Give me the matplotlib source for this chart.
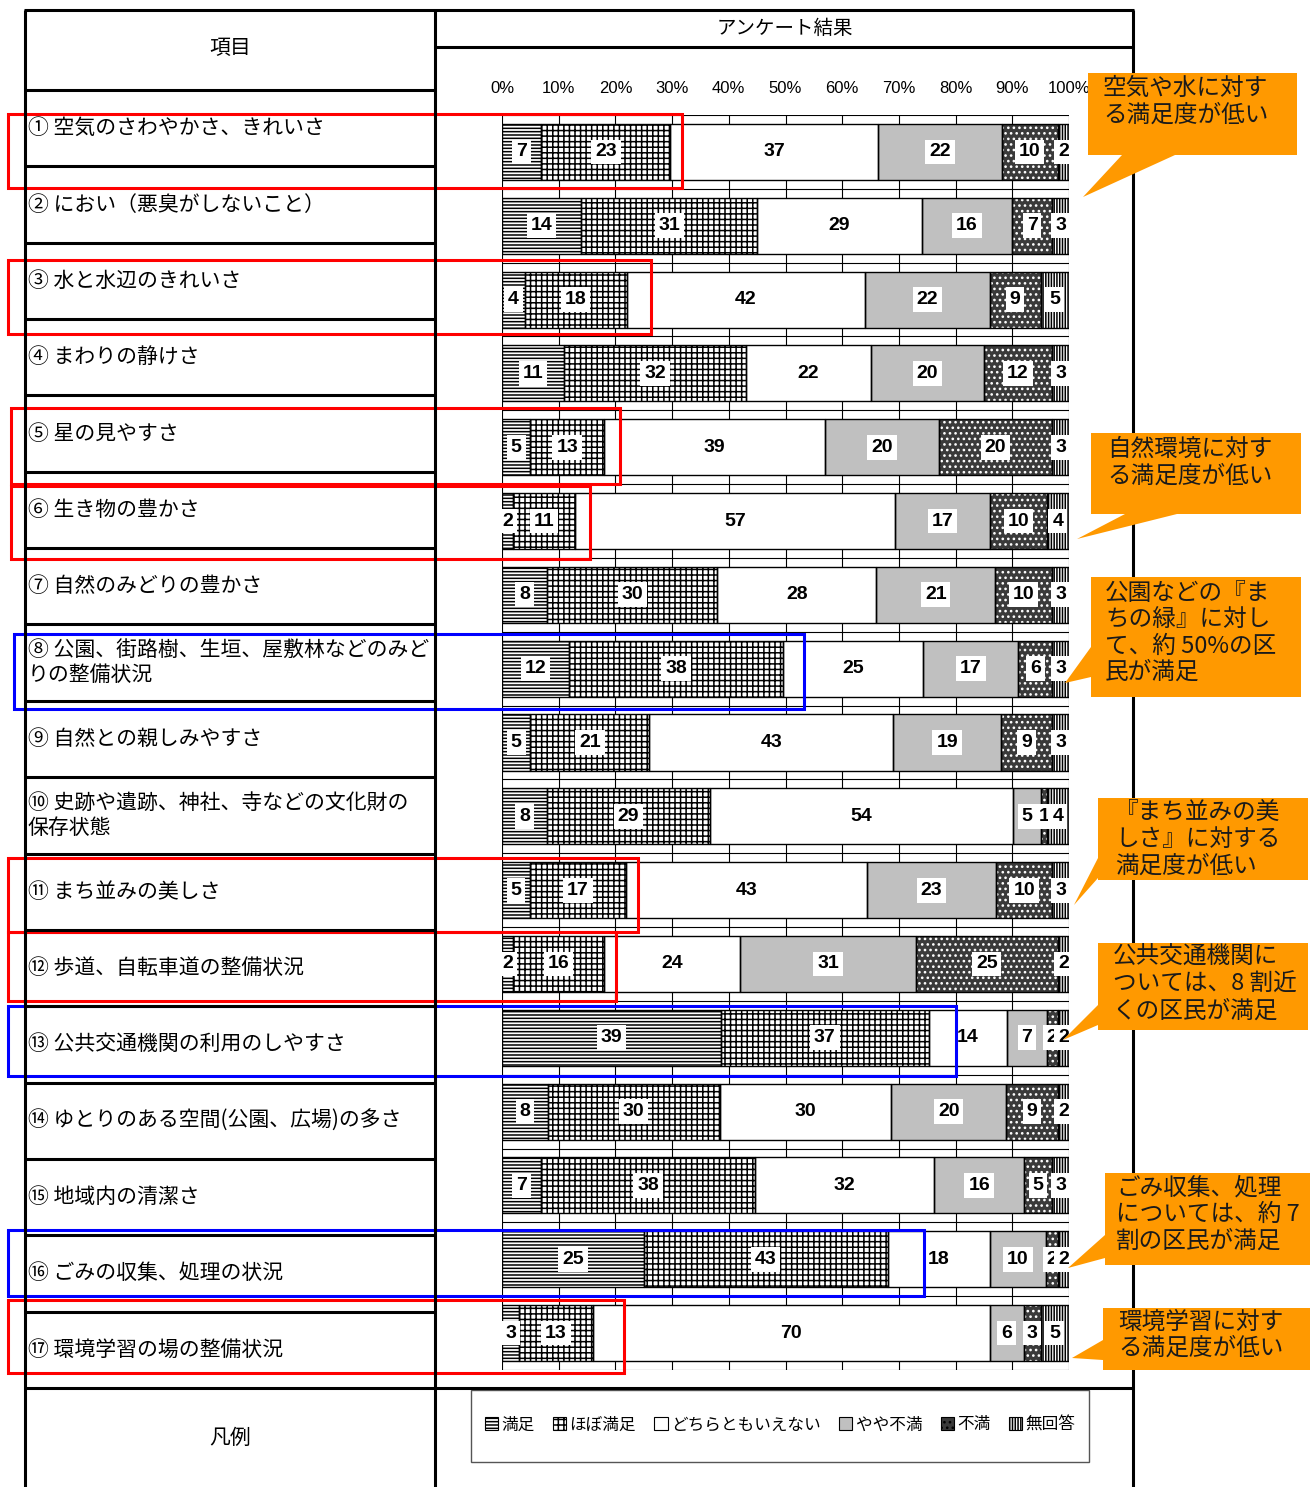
import numpy as np
import matplotlib
matplotlib.use('Agg')
import matplotlib.pyplot as plt
from matplotlib.patches import Rectangle, Polygon, Patch

plt.rcParams['font.family'] = ['Noto Sans CJK JP', 'DejaVu Sans']
plt.rcParams['hatch.linewidth'] = 1.1

# ---------------- data ----------------
categories = [
    "① 空気のさわやかさ、きれいさ",
    "② におい（悪臭がしないこと）",
    "③ 水と水辺のきれいさ",
    "④ まわりの静けさ",
    "⑤ 星の見やすさ",
    "⑥ 生き物の豊かさ",
    "⑦ 自然のみどりの豊かさ",
    "⑧ 公園、街路樹、生垣、屋敷林などのみど\nりの整備状況",
    "⑨ 自然との親しみやすさ",
    "⑩ 史跡や遺跡、神社、寺などの文化財の\n保存状態",
    "⑪ まち並みの美しさ",
    "⑫ 歩道、自転車道の整備状況",
    "⑬ 公共交通機関の利用のしやすさ",
    "⑭ ゆとりのある空間(公園、広場)の多さ",
    "⑮ 地域内の清潔さ",
    "⑯ ごみの収集、処理の状況",
    "⑰ 環境学習の場の整備状況",
]
series_names = ["満足", "ほぼ満足", "どちらともいえない", "やや不満", "不満", "無回答"]
satisfied    = [7, 14, 4, 11, 5, 2, 8, 12, 5, 8, 5, 2, 39, 8, 7, 25, 3]
mostly_sat   = [23, 31, 18, 32, 13, 11, 30, 38, 21, 29, 17, 16, 37, 30, 38, 43, 13]
neutral      = [37, 29, 42, 22, 39, 57, 28, 25, 43, 54, 43, 24, 14, 30, 32, 18, 70]
somewhat_dis = [22, 16, 22, 20, 20, 17, 21, 17, 19, 5, 23, 31, 7, 20, 16, 10, 6]
dissatisfied = [10, 7, 9, 12, 20, 10, 10, 6, 9, 1, 10, 25, 2, 9, 5, 2, 3]
no_answer    = [2, 3, 5, 3, 3, 4, 3, 3, 3, 4, 3, 2, 2, 2, 3, 2, 5]
tick_values = [0, 10, 20, 30, 40, 50, 60, 70, 80, 90, 100]
tick_labels = ["0%", "10%", "20%", "30%", "40%", "50%", "60%", "70%", "80%", "90%", "100%"]

callout_texts = [
    ["空気や水に対す", "る満足度が低い"],
    ["自然環境に対す", "る満足度が低い"],
    ["公園などの『ま", "ちの緑』に対し", "て、約 50%の区", "民が満足"],
    ["『まち並みの美", "しさ』に対する", "満足度が低い"],
    ["公共交通機関に", "ついては、8 割近", "くの区民が満足"],
    ["ごみ収集、処理", "については、約 7", "割の区民が満足"],
    ["環境学習に対す", "る満足度が低い"],
]

# ---------------- styles ----------------
W, H = 1311, 1487
styles = [  # facecolor, hatch, hatch colour
    ("white", "-----", "black"),
    ("white", "+++", "black"),
    ("white", None, None),
    ("#C0C0C0", None, None),
    ("#3a3a3a", "...", "white"),
    ("white", "||||||", "black"),
]
num_font = ['Liberation Sans Narrow', 'Liberation Sans', 'DejaVu Sans']

fig = plt.figure(figsize=(W / 100, H / 100), dpi=100)

# bar axes
x0, x1, ytop, ybot = 502, 1069, 115, 1370
ax = fig.add_axes([x0 / W, 1 - ybot / H, (x1 - x0) / W, (ybot - ytop) / H], zorder=2)
data = np.array([satisfied, mostly_sat, neutral, somewhat_dis, dissatisfied, no_answer], float)
pct = data / data.sum(axis=0) * 100
n = len(categories)
yy = np.arange(n)
left = np.zeros(n)
bh = 0.76
for s in range(len(series_names)):
    w = pct[s]
    fc, hatch, hc = styles[s]
    ax.barh(yy, w, left=left, height=bh, color=fc, edgecolor='none', lw=0, zorder=2)
    if hatch:
        ax.barh(yy, w, left=left, height=bh, fill=False, hatch=hatch, edgecolor=hc, lw=0, zorder=3)
    ax.barh(yy, w, left=left, height=bh, fill=False, edgecolor='black', lw=1.0, zorder=4)
    for i in range(n):
        ax.text(left[i] + w[i] / 2, i, str(int(data[s, i])), ha='center', va='center',
                fontsize=14, fontweight='bold', family=num_font, zorder=6,
                bbox=dict(boxstyle='square,pad=0.2', fc='white', ec='none'))
    left += w

ax.set_xlim(0, 100)
ax.set_ylim(n - 0.5, -0.5)
ax.set_xticks(tick_values)
ax.set_xticklabels(tick_labels, family=num_font, fontsize=12)
ax.xaxis.tick_top()
ax.tick_params(axis='x', length=0, pad=14)
ax.set_yticks(np.arange(-0.5, n, 1.0))
ax.set_yticklabels([])
ax.tick_params(axis='y', length=0)
ax.grid(True, color='black', lw=0.8)
ax.set_axisbelow(True)
for sp in ax.spines.values():
    sp.set_visible(False)

# overlay axes in pixel coordinates
ov = fig.add_axes([0, 0, 1, 1], zorder=5)
ov.set_xlim(0, W)
ov.set_ylim(H, 0)
ov.axis('off')
ov.patch.set_alpha(0)

LW = 2.2
def hline(y, xa, xb, lw=LW):
    ov.plot([xa, xb], [y, y], color='black', lw=lw, solid_capstyle='butt')
def vline(x, ya, yb, lw=LW):
    ov.plot([x, x], [ya, yb], color='black', lw=lw, solid_capstyle='butt')

hline(10, 24, 1134)
vline(25, 10, H)
vline(435, 10, H)
vline(1133, 10, H)
hline(47, 435, 1133)
hline(90, 25, 435)
row_top, row_bot = 90, 1388
rh = (row_bot - row_top) / n
for k in range(1, n):
    hline(row_top + k * rh, 25, 435)
hline(row_bot, 25, 1133)

ov.text(230, 48, "項目", ha='center', va='center', fontsize=15)
ov.text(785, 28, "アンケート結果", ha='center', va='center', fontsize=14)
ov.text(230, 1438, "凡例", ha='center', va='center', fontsize=15)

for i, lab in enumerate(categories):
    cy = row_top + (i + 0.5) * rh
    lines = lab.split("\n")
    m = len(lines)
    for j, ln in enumerate(lines):
        ov.text(28, cy + (j - (m - 1) / 2) * 25, ln, ha='left', va='center', fontsize=15)

# highlight rectangles
highlights = [
    (8, 114, 682, 188, 'red'), (8, 260, 651, 334, 'red'), (11, 408, 620, 484, 'red'),
    (11, 486, 590, 559, 'red'), (14, 634, 804, 709, 'blue'), (8, 858, 638, 932, 'red'),
    (8, 932, 616, 1001, 'red'), (8, 1006, 956, 1076, 'blue'), (8, 1230, 924, 1296, 'blue'),
    (8, 1300, 624, 1373, 'red'),
]
for xa, ya, xb, yb, c in highlights:
    ov.add_patch(Rectangle((xa, ya), xb - xa, yb - ya, fill=False,
                           edgecolor='#FF0000' if c == 'red' else '#0000FF', lw=2.2))

# callouts
boxes = [
    ((1088, 73, 1297, 155), [(1122, 155), (1175, 155), (1083, 197)], 1103, [88, 115]),
    ((1091, 433, 1301, 514), [(1125, 514), (1177, 514), (1077, 539)], 1107, [449, 476]),
    ((1091, 577, 1301, 697), [(1091, 647), (1091, 677), (1065, 683)], 1105, [594, 620, 646, 672]),
    ((1098, 798, 1308, 880), [(1098, 858), (1098, 878), (1074, 905)], 1115, [813, 839, 866]),
    ((1098, 943, 1308, 1030), [(1098, 1005), (1098, 1025), (1063, 1040)], 1113, [957, 984, 1011]),
    ((1105, 1173, 1310, 1265), [(1105, 1235), (1105, 1258), (1068, 1268)], 1116, [1188, 1214, 1241]),
    ((1103, 1308, 1310, 1370), [(1103, 1340), (1103, 1360), (1072, 1358)], 1118, [1322, 1348]),
]
orange = '#FF9900'
for idx, ((bx0, by0, bx1, by1), tri, tx, tys) in enumerate(boxes):
    ov.add_patch(Rectangle((bx0, by0), bx1 - bx0, by1 - by0, facecolor=orange, edgecolor='none', zorder=7))
    ov.add_patch(Polygon(tri, closed=True, facecolor=orange, edgecolor='none', zorder=7))
    for ty, ln in zip(tys, callout_texts[idx]):
        ov.text(tx, ty, ln, ha='left', va='center', fontsize=17, color='#1a1a1a', zorder=8)

# legend
ov.add_patch(Rectangle((471, 1390), 1089 - 471, 1462 - 1390, fill=False, edgecolor='#555555', lw=1.0))
handles = []
for s in range(len(series_names)):
    fc, hatch, hc = styles[s]
    handles.append(Patch(facecolor=fc, hatch=hatch, edgecolor='black', lw=0.8))
ov.legend(handles, series_names, ncol=6, loc='center', bbox_to_anchor=(780, 1425),
          bbox_transform=ov.transData, frameon=False,
          handlelength=0.8, handleheight=0.8, handletextpad=0.2, columnspacing=1.1,
          prop={'family': ['Noto Sans CJK JP', 'DejaVu Sans'], 'size': 12})

fig.savefig('out.png', dpi=100)
